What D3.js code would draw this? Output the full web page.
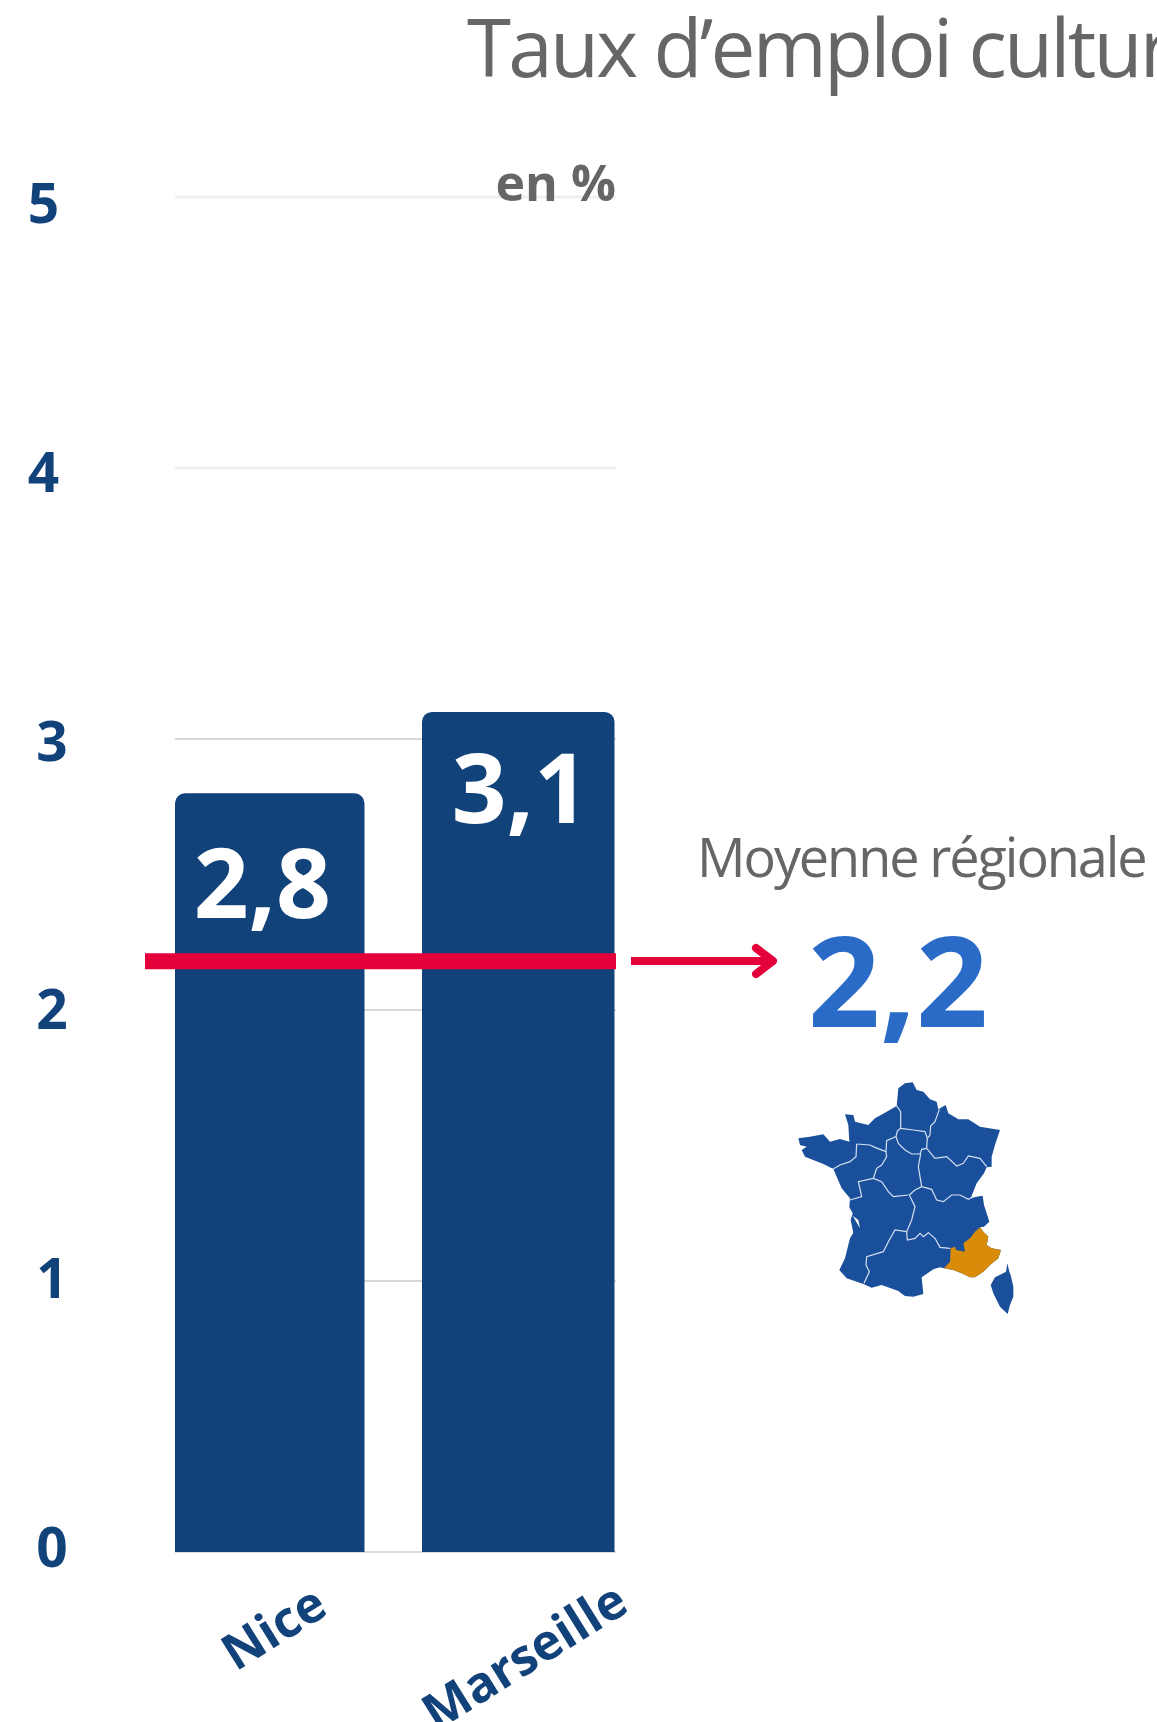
<!DOCTYPE html>
<html lang="fr">
<head>
<meta charset="utf-8">
<script src="https://cdn.jsdelivr.net/npm/d3@7"></script>
<style>
html,body{margin:0;padding:0;background:#fff;overflow:hidden}
svg{display:block}
text{font-family:"Open Sans",sans-serif}
</style>
</head>
<body>
<script>
const categories = ["Nice", "Marseille"];
const values = [2.8, 3.1];
const valueLabels = ["2,8", "3,1"];
const yTicks = [0, 1, 2, 3, 4, 5];
const regionalLabel = "Moyenne régionale";
const regionalValue = "2,2";
const regionalLinePosition = 2.18;
const titleText = "Taux d’emploi culturel";
const unitText = "en %";

// Traced outline of the small France locator map (in the map's own units)
const mainland = [[415,115],[435,100],[458,97],[470,120],[490,125],[510,148],[530,155],[535,178],[557,165],[565,190],[595,208],[625,208],[660,230],[720,240],[705,285],[695,320],[695,350],[680,352],[672,370],[650,400],[632,445],[650,440],[668,437],[672,465],[680,490],[688,515],[672,530],[660,532],[670,545],[685,560],[680,585],[695,595],[723,600],[715,625],[690,645],[670,665],[645,682],[630,682],[605,670],[580,660],[552,655],[540,652],[520,658],[485,682],[490,732],[460,740],[435,738],[415,723],[365,705],[335,713],[310,702],[260,685],[238,660],[255,625],[270,565],[280,548],[272,510],[278,490],[268,472],[270,445],[245,415],[232,385],[220,357],[190,342],[135,320],[125,300],[140,290],[120,285],[115,265],[150,260],[190,253],[210,275],[240,267],[268,275],[265,225],[255,193],[280,195],[285,215],[325,225],[345,205],[380,185],[410,168]];
const paca = [[552,655],[570,635],[572,595],[585,590],[588,600],[615,605],[610,580],[630,565],[645,545],[660,532],[670,545],[685,560],[680,585],[695,595],[723,600],[715,625],[690,645],[670,665],[645,682],[630,682],[605,670],[580,660]];
const corsica = [[742,640],[748,665],[752,675],[760,710],[760,740],[750,765],[743,792],[720,770],[705,740],[700,730],[692,705],[705,682],[725,672],[738,665]];
const gironde = [[275,495],[295,510],[300,535],[280,500]];
const borders = [
 [[408,165],[422,185],[422,235],[412,243],[408,260],[380,272],[378,305],[380,320],[365,345],[350,355],[340,385]],
 [[290,282],[330,285],[345,292],[360,298],[378,305]],
 [[290,282],[288,320],[270,335],[240,345],[218,358]],
 [[340,385],[295,395],[305,440],[280,447],[270,450]],
 [[340,385],[365,395],[385,425],[400,440],[445,435]],
 [[408,260],[415,280],[435,300],[455,312],[480,312]],
 [[422,235],[460,240],[495,245],[502,265],[500,295]],
 [[500,295],[485,298],[480,312]],
 [[538,178],[525,215],[512,228],[510,255],[502,265]],
 [[500,295],[525,325],[560,320],[590,348],[610,340],[625,318],[660,325],[680,350]],
 [[482,312],[475,350],[485,410]],
 [[448,435],[465,420],[485,410],[515,418],[530,450],[550,455],[575,435],[600,435],[625,448],[640,440]],
 [[448,435],[465,470],[455,510],[440,545]],
 [[440,545],[405,540],[385,575],[370,605],[320,620],[318,645],[328,665],[312,700]],
 [[440,545],[442,570],[465,565],[480,550],[490,560],[505,548],[525,565],[540,592],[570,595]]
];

const W = 1157, H = 1722;
const svg = d3.select("body").append("svg").attr("width", W).attr("height", H).attr("viewBox", [0,0,W,H]);

const y = d3.scaleLinear().domain([0,5]).range([1552,197]);
const yLab = d3.scaleLinear().domain([0,5]).range([1567,223]);
const x = d3.scaleBand().domain(categories).range([175,614.5]).paddingInner(0.235).paddingOuter(0);

const navy = "#12427a", grey = "#666666";

svg.append("g").selectAll("line").data(yTicks).join("line")
  .attr("x1",175).attr("x2",616)
  .attr("y1",d=>y(d)).attr("y2",d=>y(d))
  .attr("stroke",d=>d>=4?"#efefef":"#d9d9d9")
  .attr("stroke-width",d=>d>=4?3:2);

svg.append("g").selectAll("text").data(yTicks).join("text")
  .attr("x",d=>d>=4?43.5:52).attr("y",d=>yLab(d))
  .attr("text-anchor","middle").attr("font-size",55).attr("font-weight",700)
  .attr("fill",navy).text(d=>d);

const r = 10;
const barLeftTrim = [0,-2];
svg.append("g").selectAll("path").data(categories).join("path")
  .attr("fill",navy)
  .attr("d",(c,i)=>{
    const p = d3.path(), x0=x(c)+barLeftTrim[i], x1=x(c)+x.bandwidth()+(i===0?-1:0), y0=y(values[i]), yb=y(0);
    p.moveTo(x0,yb); p.lineTo(x0,y0+r); p.arcTo(x0,y0,x0+r,y0,r);
    p.lineTo(x1-r,y0); p.arcTo(x1,y0,x1,y0+r,r); p.lineTo(x1,yb); p.closePath();
    return p.toString();
  });

const labelShift = [-8, 1];
svg.append("g").selectAll("text").data(categories).join("text")
  .attr("x",(c,i)=>x(c)+x.bandwidth()/2+labelShift[i])
  .attr("y",(c,i)=>y(values[i])+(i===0?125:111))
  .attr("text-anchor","middle").attr("font-size",96).attr("font-weight",700)
  .attr("fill","#fff").text((c,i)=>valueLabels[i]);

const catEnd = [[330,1613],[631,1610]];
svg.append("g").selectAll("text").data(categories).join("text")
  .attr("transform",(c,i)=>`translate(${catEnd[i][0]},${catEnd[i][1]}) rotate(-32)`)
  .attr("text-anchor","end").attr("font-size",50).attr("font-weight",700)
  .attr("fill",navy).text(c=>c);

const red = "#e4003a";
svg.append("line").attr("x1",145).attr("x2",616)
  .attr("y1",y(regionalLinePosition)).attr("y2",y(regionalLinePosition))
  .attr("stroke",red).attr("stroke-width",16);
const ay = 961;
svg.append("line").attr("x1",631).attr("x2",772).attr("y1",ay).attr("y2",ay)
  .attr("stroke",red).attr("stroke-width",8);
svg.append("path").attr("d",d3.line()([[756,948],[773,ay],[756,974]]))
  .attr("fill","none").attr("stroke",red).attr("stroke-width",8)
  .attr("stroke-linecap","round").attr("stroke-linejoin","round");

svg.append("text").attr("x",467).attr("y",77).attr("font-size",80).attr("font-weight",400)
  .attr("letter-spacing",-2.75).attr("fill",grey).text(titleText);
svg.append("text").attr("x",616).attr("y",201).attr("text-anchor","end").attr("font-size",50)
  .attr("font-weight",700).attr("fill",grey).text(unitText);
svg.append("text").attr("x",697).attr("y",877).attr("font-size",54).attr("font-weight",400)
  .attr("letter-spacing",-2.08).attr("fill",grey).text(regionalLabel);
svg.append("text").attr("x",808).attr("y",1027).attr("font-size",126).attr("font-weight",700)
  .attr("fill","#2a6bc8").text(regionalValue);

const mx = d3.scaleLinear().domain([0,900]).range([760,1060]);
const my = d3.scaleLinear().domain([0,870]).range([1050,1340]);
const geo = d3.line().x(d=>mx(d[0])).y(d=>my(d[1]));
const closed = pts => geo(pts)+"Z";
const map = svg.append("g");
const blue = "#1a4f9c";
map.append("path").attr("d",closed(mainland)).attr("fill",blue);
map.append("path").attr("d",closed(corsica)).attr("fill",blue);
map.append("path").attr("d",closed(gironde)).attr("fill","#fff");
map.append("g").selectAll("path").data(borders).join("path")
  .attr("d",d=>geo(d)).attr("fill","none").attr("stroke","#d5e0f0").attr("stroke-width",1.2);
map.append("path").attr("d",closed(paca)).attr("fill","#d98c0a");
</script>
</body>
</html>
